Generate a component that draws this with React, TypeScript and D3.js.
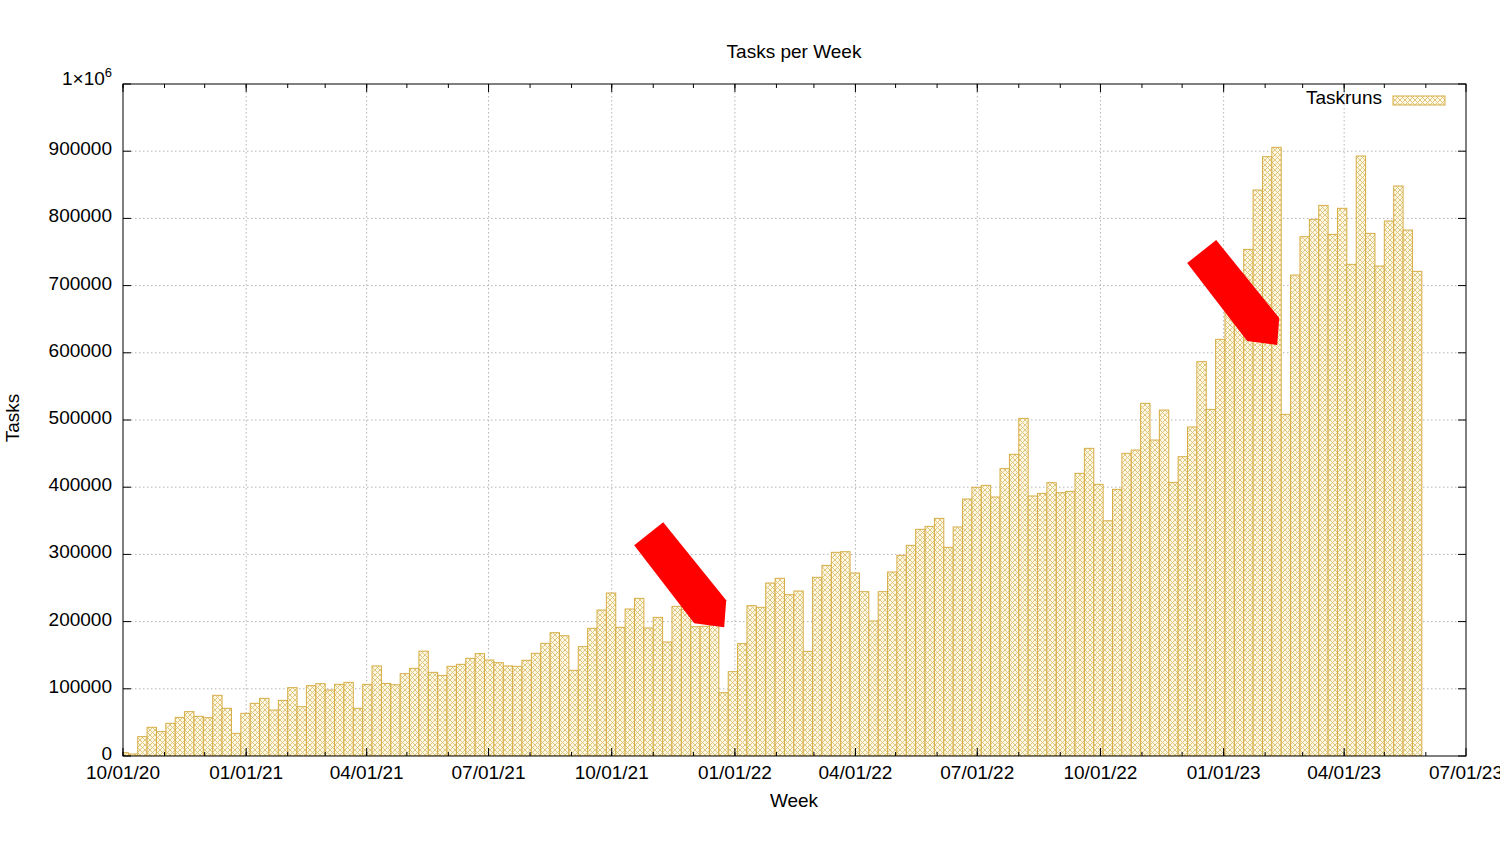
import * as d3 from "d3";

// weekly task run counts, one value per week starting Monday 09/28/20
const firstWeek = new Date(2020, 8, 28);
const taskruns = [
  5000, 3000, 28800, 42700, 36200, 48600, 57500, 66000, 59000, 57000,
  90300, 71000, 33700, 63500, 78400, 85800, 68400, 82800, 101700, 73400,
  104700, 107600, 98200, 106600, 109600, 71000, 106600, 134000, 108000, 106000,
  122500, 130400, 156000, 124500, 120000, 133400, 136400, 145300, 152300, 142800,
  138900, 134000, 133400, 142400, 152800, 167600, 183500, 179000, 127500, 162700,
  190000, 217200, 242500, 191500, 218700, 234600, 190500, 206300, 169600, 222700,
  218000, 192400, 193000, 195000, 94200, 125500, 167200, 223700, 221200, 257400,
  264400, 240100, 245500, 155700, 265900, 283700, 303100, 304000, 272300, 244500,
  200900, 244500, 273800, 298600, 313500, 337300, 341700, 353600, 310500, 340800,
  382400, 399800, 402800, 385400, 427600, 448900, 502400, 386900, 390800, 406700,
  391800, 393800, 420600, 457800, 404200, 350000, 396800, 450400, 455300, 524800,
  470200, 514800, 407200, 445400, 489600, 586800, 515800, 620000, 661000, 690000,
  753900, 842200, 891800, 905700, 508400, 715700, 772800, 798600, 819400, 776200,
  815000, 731600, 892800, 777700, 729100, 796100, 848200, 782700, 721200,
];
const yTicks = [0, 100000, 200000, 300000, 400000, 500000, 600000, 700000, 800000, 900000];
// red arrows pointing at the dips: [date of tip, value at tip]
const arrowTips: [Date, number][] = [
  [new Date(2021, 11, 24), 191500],
  [new Date(2023, 1, 10), 611600],
];

const W = 1500, H = 844;
const left = 123, right = 1466, top = 84, bottom = 756;
const font = "'Liberation Sans', Arial, sans-serif";
const gold = "#d6ad45";

export default function App() {
  const x = d3.scaleTime()
    .domain([new Date(2020, 9, 1), new Date(2023, 6, 1)])
    .range([left, right]);
  const y = d3.scaleLinear().domain([0, 1000000]).range([bottom, top]);

  const weeks = taskruns.map((v, i) => {
    const start = d3.timeDay.offset(firstWeek, 7 * i);
    return { start, end: d3.timeDay.offset(start, 7), v };
  });

  const xTicks = d3.timeMonth.every(3).range(x.domain()[0], d3.timeDay.offset(x.domain()[1], 1));
  const xMinor = d3.timeMonth.range(x.domain()[0], x.domain()[1]);
  const fmt = d3.timeFormat("%m/%d/%y");

  // arrow outline relative to its tip
  const shape = [[-90, -82], [-61, -105], [2, -27], [0, 0], [-30, -4]];

  return (
    <svg width={W} height={H} style={{ position: "absolute", left: 0, top: 0, background: "#fff" }}
      fontFamily={font}>
      <defs>
        <pattern id="xhatch" width="5" height="5" patternUnits="userSpaceOnUse">
          <rect width="5" height="5" fill="#fdf8e6" />
          <path d="M0,0L5,5M5,0L0,5" stroke="#dfc273" strokeWidth="0.9" />
        </pattern>
        <clipPath id="plot">
          <rect x={left} y={top} width={right - left} height={bottom - top} />
        </clipPath>
      </defs>

      <text x={794} y={58} textAnchor="middle" fontSize={19}>Tasks per Week</text>

      {/* grid */}
      <g stroke="#b4b4b4" strokeDasharray="1.5,2.5" strokeWidth={1}>
        {yTicks.filter(t => t > 0).map(t => (
          <line key={t} x1={left} x2={right} y1={y(t)} y2={y(t)} />
        ))}
        {xTicks.filter(t => x(t) > left + 1 && x(t) < right - 1).map(t => (
          <line key={+t} x1={x(t)} x2={x(t)} y1={top} y2={bottom} />
        ))}
      </g>

      {/* bars */}
      <g clipPath="url(#plot)">
        {weeks.map((d, i) => (
          <rect key={i} x={x(d.start)} width={x(d.end) - x(d.start)} y={y(d.v)}
            height={bottom - y(d.v)} fill="url(#xhatch)" stroke={gold} strokeWidth={1} />
        ))}
      </g>

      {/* arrows */}
      {arrowTips.map(([dt, v], i) => {
        const tx = x(dt), ty = y(v);
        return <polygon key={i} fill="#ff0000"
          points={shape.map(([dx, dy]) => `${tx + dx},${ty + dy}`).join(" ")} />;
      })}

      {/* border and ticks */}
      <rect x={left} y={top} width={right - left} height={bottom - top} fill="none" stroke="#000" strokeWidth={1} />
      <g stroke="#000" strokeWidth={1}>
        {yTicks.concat([1000000]).map(t => (
          <g key={t}>
            <line x1={left} x2={left + 8} y1={y(t)} y2={y(t)} />
            <line x1={right} x2={right - 8} y1={y(t)} y2={y(t)} />
          </g>
        ))}
        {xMinor.map(t => (
          <g key={+t}>
            <line x1={x(t)} x2={x(t)} y1={bottom} y2={bottom - 4} />
            <line x1={x(t)} x2={x(t)} y1={top} y2={top + 4} />
          </g>
        ))}
        {xTicks.map(t => (
          <g key={+t}>
            <line x1={x(t)} x2={x(t)} y1={bottom} y2={bottom - 8} />
            <line x1={x(t)} x2={x(t)} y1={top} y2={top + 8} />
          </g>
        ))}
      </g>

      {/* tick labels */}
      <g fontSize={19} textAnchor="end">
        {yTicks.map(t => (
          <text key={t} x={112} y={y(t) + 4}>{t}</text>
        ))}
        <text x={112} y={y(1000000) + 1}>
          1×10<tspan fontSize={13} dy={-8}>6</tspan>
        </text>
      </g>
      <g fontSize={19} textAnchor="middle">
        {xTicks.map(t => (
          <text key={+t} x={x(t)} y={779}>{fmt(t)}</text>
        ))}
      </g>

      <text x={794} y={807} textAnchor="middle" fontSize={19}>Week</text>
      <text transform="translate(19,418) rotate(-90)" textAnchor="middle" fontSize={19}>Tasks</text>

      {/* legend */}
      <text x={1382} y={104} textAnchor="end" fontSize={19}>Taskruns</text>
      <rect x={1393} y={96} width={52} height={9} fill="url(#xhatch)" stroke={gold} strokeWidth={1} />
    </svg>
  );
}
